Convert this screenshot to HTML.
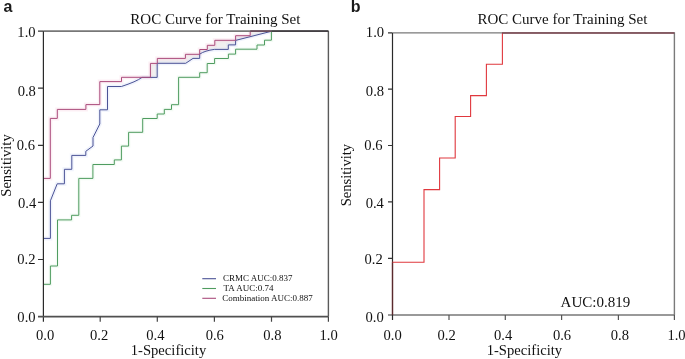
<!DOCTYPE html>
<html><head><meta charset="utf-8">
<style>
html,body{margin:0;padding:0;background:#fff;}
body{width:685px;height:359px;overflow:hidden;}
svg{display:block;will-change:transform;}
text{font-family:"Liberation Serif",serif;fill:#111;}
.lab{font-family:"Liberation Sans",sans-serif;font-weight:bold;font-size:16px;fill:#1a1a1a;}
.tk{font-size:14.6px;}
.ttl{font-size:15px;}
.lg{font-size:9px;}
</style></head>
<body>
<svg width="685" height="359" viewBox="0 0 685 359">
<rect width="685" height="359" fill="#fff"/>
<!-- panel labels -->
<text class="lab" x="3.5" y="11.6">a</text>
<text class="lab" x="350.8" y="11.6">b</text>

<!-- ================= LEFT PANEL ================= -->
<text class="ttl" x="130.3" y="23.9">ROC Curve for Training Set</text>

<!-- curves -->
<path fill="#f1f0f0" stroke="none" d="M142,77.3 H150.4 V63.4 H157.3 V58.4 H185.4 V54.3 H199.7 V49.5 H207.3 V45.3 H214.8 V40.3 H235.6 V35.7 H250.2 V31.3 H271.3 L235.6,40.4 V44.9 H228.3 V49.3 H214.4 Q205,50.6 199.7,54.1 V58.4 H193 L185.7,63.3 H157.2 V77.4 Z"/>
<g fill="none" stroke-linejoin="miter" class="bleed">
<path d="M43.4,284.3 H50.4 V266 H57.5 V219.9 H71.6 V215.3 H78.8 V178.4 H92.9 V164.5 H114.3 V159.9 H121.4 V146.1 H128.6 V132.3 H142.7 V118.5 H157.2 V114 H164.3 V109.4 H171.5 V104.7 H178.6 V77.3 H199.7 V72.7 H207.2 V63.5 H214.6 V58.5 H228.4 V54.1 H235.6 V49.2 H257 V45 H264.5 V40.2 H271.4 V31.3" stroke="#d2eed8" stroke-width="3.5" opacity="0.25"/>
<path d="M43.4,238.4 H50.4 V200.8 L57.2,183.8 H64.4 V169.3 H71.8 V155.4 H85.8 V151.3 L93,146 V137.5 L99.8,124 V109.8 H107.5 V86.5 H121.4 L128,84.2 L134,81.8 L138.5,79.6 L142,77.4 H157.2 V63.3 H185.7 L193,58.4 H199.7 V54.1 Q205,50.6 214.4,49.4 H228.3 V44.9 H235.6 V40.4 L271.3,31.3" stroke="#cdd8f4" stroke-width="4" opacity="0.3"/>
<path d="M43.4,178.4 H50.3 V118.4 H57.3 V109.4 H85.9 V104.6 H99.8 V81.6 H121.5 V77.3 H150.4 V63.4 H157.3 V58.4 H185.4 V54.3 H199.7 V49.5 H207.3 V45.3 H214.8 V40.3 H235.6 V35.7 H250.2 V31.3" stroke="#f6cadb" stroke-width="4" opacity="0.3"/>
</g>
<g fill="none" stroke-width="1" stroke-linejoin="miter">
<path d="M43.4,284.3 H50.4 V266 H57.5 V219.9 H71.6 V215.3 H78.8 V178.4 H92.9 V164.5 H114.3 V159.9 H121.4 V146.1 H128.6 V132.3 H142.7 V118.5 H157.2 V114 H164.3 V109.4 H171.5 V104.7 H178.6 V77.3 H199.7 V72.7 H207.2 V63.5 H214.6 V58.5 H228.4 V54.1 H235.6 V49.2 H257 V45 H264.5 V40.2 H271.4 V31.3" stroke="#4f9c60"/>
<path d="M43.4,238.4 H50.4 V200.8 L57.2,183.8 H64.4 V169.3 H71.8 V155.4 H85.8 V151.3 L93,146 V137.5 L99.8,124 V109.8 H107.5 V86.5 H121.4 L128,84.2 L134,81.8 L138.5,79.6 L142,77.4 H157.2 V63.3 H185.7 L193,58.4 H199.7 V54.1 Q205,50.6 214.4,49.4 H228.3 V44.9 H235.6 V40.4 L271.3,31.3" stroke="#4b5396"/>
<path d="M43.4,178.4 H50.3 V118.4 H57.3 V109.4 H85.9 V104.6 H99.8 V81.6 H121.5 V77.3 H150.4 V63.4 H157.3 V58.4 H185.4 V54.3 H199.7 V49.5 H207.3 V45.3 H214.8 V40.3 H235.6 V35.7 H250.2 V31.3" stroke="#aa4c7c"/>
</g>

<!-- axes & frame -->
<g fill="none">
<path stroke="#777" stroke-width="1.6" d="M43.4,31.1 H328.4"/>
<path stroke="#5a5a5a" stroke-width="1.4" d="M328.4,31.1 V316.5"/>
<path stroke="#6a4a5c" stroke-width="1.6" d="M250.2,31.1 H271.4"/>
<path stroke="#444044" stroke-width="1.6" d="M271.4,31.1 H328.4"/>
<path stroke="#2a2a2a" stroke-width="1.2" d="M43.4,31.2 V321.8"/>
<path stroke="#505050" stroke-width="1.6" d="M38,316.6 H328.4"/>
<path stroke="#333" stroke-width="1.2" d="M38,31.2 H43.4 M38,88.2 H43.4 M38,145.3 H43.4 M38,202.3 H43.4 M38,259.5 H43.4"/>
<path stroke="#444" stroke-width="1.2" d="M100.2,316.5 V321.8 M157.3,316.5 V321.8 M214.4,316.5 V321.8 M271.5,316.5 V321.8 M328.4,316.5 V321.8"/>
</g>

<!-- y tick labels -->
<g class="tk" text-anchor="end">
<text x="35.6" y="37.1">1.0</text>
<text x="35.9" y="95.8">0.8</text>
<text x="35.0" y="150.0">0.6</text>
<text x="36.3" y="207.8">0.4</text>
<text x="35.5" y="263.9">0.2</text>
<text x="35.6" y="321.9">0.0</text>
</g>
<!-- x tick labels -->
<g class="tk" text-anchor="middle">
<text x="45.1" y="339.8">0.0</text>
<text x="99.1" y="339.8">0.2</text>
<text x="155.4" y="339.8">0.4</text>
<text x="214.8" y="339.8">0.6</text>
<text x="272.4" y="339.8">0.8</text>
<text x="328.6" y="339.8">1.0</text>
</g>
<text class="tk" x="168.5" y="355.4" text-anchor="middle">1-Specificity</text>
<text class="tk" transform="translate(11.1,165.5) rotate(-90)" text-anchor="middle">Sensitivity</text>

<!-- legend -->
<g stroke-width="1.1">
<line x1="202.3" y1="278.7" x2="216" y2="278.7" stroke="#4b5396"/>
<line x1="202.3" y1="288.5" x2="216" y2="288.5" stroke="#4f9c60"/>
<line x1="202.3" y1="298.3" x2="216" y2="298.3" stroke="#aa4c7c"/>
</g>
<g class="lg">
<text x="223" y="281.2">CRMC AUC:0.837</text>
<text x="223.6" y="290.7">TA AUC:0.74</text>
<text x="222.2" y="301.4">Combination AUC:0.887</text>
</g>

<!-- ================= RIGHT PANEL ================= -->
<text class="ttl" x="477.4" y="24">ROC Curve for Training Set</text>

<g fill="none">
<path stroke="#7a7a7a" stroke-width="1.4" d="M392.5,32.9 H674.4 V315"/>
<path stroke="#777" stroke-width="1.3" d="M388,315 H674.4"/>
<path stroke="#2a2a2a" stroke-width="1.2" d="M392.5,32.9 V320"/>
<path stroke="#333" stroke-width="1.2" d="M388,32.9 H392.5 M388,89.2 H392.5 M388,145.5 H392.5 M388,201.9 H392.5 M388,258.3 H392.5"/>
<path stroke="#555" stroke-width="1.2" d="M449,315 V320 M505.3,315 V320 M561.6,315 V320 M618.4,315 V320 M674.4,315 V320"/>
</g>
<path fill="none" stroke="#e0383e" stroke-width="1.1" d="M392.5,315 V262.3 H424 V189.6 H439.6 V158 H455.2 V116.5 H470.6 V95.6 H486.4 V64.2 H502.4 V33"/>
<path fill="none" stroke="#7d4650" stroke-width="1.4" d="M502,33 H674.4"/>
<path fill="none" stroke="#5a2a2e" stroke-width="1.2" d="M392.5,315 V262.3"/>

<g class="tk" text-anchor="end">
<text x="384.1" y="37.0">1.0</text>
<text x="384.1" y="96.0">0.8</text>
<text x="382.6" y="150.1">0.6</text>
<text x="383.9" y="208.0">0.4</text>
<text x="382.8" y="264.0">0.2</text>
<text x="383.7" y="321.7">0.0</text>
</g>
<g class="tk" text-anchor="middle">
<text x="392.6" y="339.9">0.0</text>
<text x="446.7" y="339.9">0.2</text>
<text x="503.2" y="339.9">0.4</text>
<text x="562.0" y="339.9">0.6</text>
<text x="619.9" y="339.9">0.8</text>
<text x="676.5" y="339.6">1.0</text>
</g>
<text class="tk" x="524.4" y="355.1" text-anchor="middle">1-Specificity</text>
<text class="tk" transform="translate(351,175.1) rotate(-90)" text-anchor="middle">Sensitivity</text>
<text x="560.6" y="306.7" style="font-size:15px">AUC:0.819</text>
</svg>
</body></html>
